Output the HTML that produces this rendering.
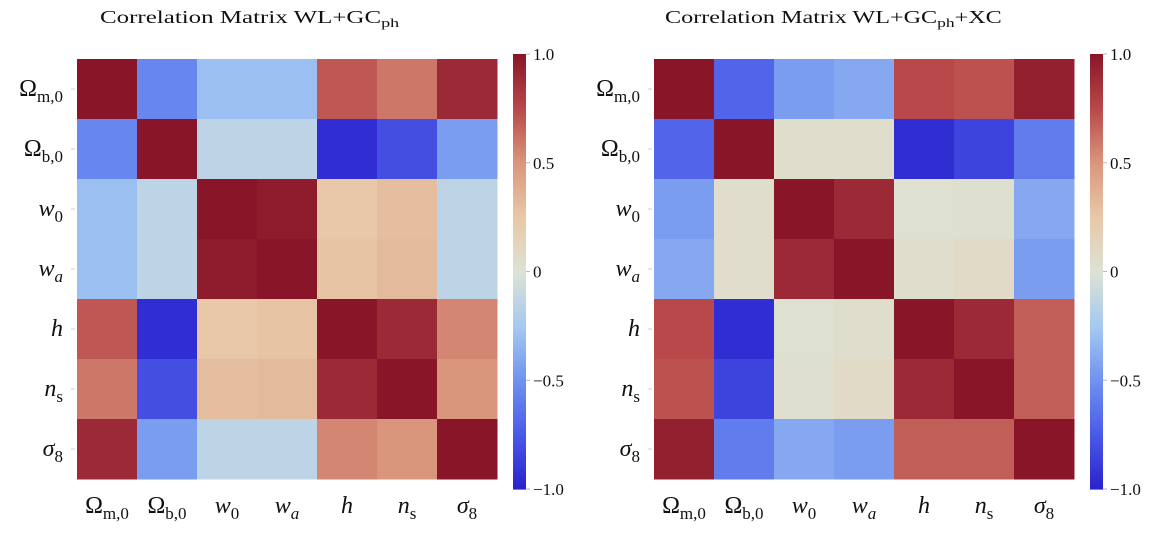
<!DOCTYPE html>
<html><head><meta charset="utf-8"><style>
body{margin:0;background:#fff;width:1153px;height:533px;overflow:hidden}
svg{display:block;font-family:"Liberation Serif",serif}
</style></head><body>
<svg id="c" width="1153" height="533" xmlns="http://www.w3.org/2000/svg"></svg>
<script>
const params = ["Ω|m,0","Ω|b,0","w|0","w|a","h|","n|s","σ|8"];
const matrixA = [
 [1,-0.55,-0.3,-0.3,0.7,0.6,0.9],
 [-0.55,1,-0.15,-0.15,-0.95,-0.8,-0.45],
 [-0.3,-0.15,1,0.97,0.25,0.3,-0.15],
 [-0.3,-0.15,0.97,1,0.27,0.32,-0.15],
 [0.7,-0.95,0.25,0.27,1,0.9,0.55],
 [0.6,-0.8,0.3,0.32,0.9,1,0.5],
 [0.9,-0.45,-0.15,-0.15,0.55,0.5,1]];
const matrixB = [
 [1,-0.7,-0.45,-0.4,0.75,0.72,0.95],
 [-0.7,1,0.05,0.05,-0.95,-0.85,-0.6],
 [-0.45,0.05,1,0.9,0.02,0.03,-0.4],
 [-0.4,0.05,0.9,1,0.04,0.08,-0.45],
 [0.75,-0.95,0.02,0.04,1,0.9,0.68],
 [0.72,-0.85,0.03,0.08,0.9,1,0.68],
 [0.95,-0.6,-0.4,-0.45,0.68,0.68,1]];
const titles = ["Correlation Matrix WL+GC","Correlation Matrix WL+GC"];
const cbTicks = [1.0,0.5,0,-0.5,-1.0];
const cbLabels = ["1.0","0.5","0","\u22120.5","\u22121.0"];

const stops=[[-1,[42,34,204]],[-0.75,[74,90,232]],[-0.5,[112,146,240]],[-0.25,[166,202,240]],[0,[221,226,212]],[0.25,[232,200,168]],[0.5,[218,150,124]],[0.75,[184,72,74]],[1,[137,22,40]]];
function col(v){v=Math.max(-1,Math.min(1,v));for(let i=0;i<stops.length-1;i++){const[a,ca]=stops[i],[b,cb]=stops[i+1];if(v<=b){const t=(v-a)/(b-a);return`rgb(${ca.map((c,k)=>Math.round(c+(cb[k]-c)*t)).join(",")})`;}}return"rgb(137,22,40)";}
const NS="http://www.w3.org/2000/svg",svg=document.getElementById("c");
function el(t,a,p){const e=document.createElementNS(NS,t);for(const k in a)e.setAttribute(k,a[k]);(p||svg).appendChild(e);return e;}
function label(p,x,y,anchor,g){
 const [b,s]=p.split("|");const it=(b==="w"||b==="h"||b==="n"||b==="σ");
 const t=el("text",{x:x,y:y,"text-anchor":anchor,"font-size":24,fill:"#111"},g);
 const m=el("tspan",{"font-style":it?"italic":"normal"},t);m.textContent=b;
 if(s){const u=el("tspan",{dy:6,"font-size":17,"font-style":(s==="a")?"italic":"normal"},t);u.textContent=s;}
 return t;
}
const panels=[{x0:77,data:matrixA,cbx:513,tx:100,tl:300,sub:"ph",extra:""},{x0:654,data:matrixB,cbx:1090,tx:665,tl:337,sub:"ph",extra:"+XC"}];
const y0=59,cs=60,cbTop=54,cbBot=489;
function cy(v){return cbTop+(1-v)/2*(cbBot-cbTop);}
panels.forEach((P,pi)=>{
 const g=el("g",{});
 
 
 const tg=el("g",{},g);
 const tt=el("text",{x:0,y:23,"font-size":18,fill:"#111"},tg);
 
 
 const a=el("tspan",{},tt);a.textContent=titles[pi];
 const s=el("tspan",{dy:4,"font-size":13},tt);s.textContent=P.sub;
 if(P.extra){const e=el("tspan",{dy:-4},tt);e.textContent=P.extra;}
 const w=tt.getBBox().width||P.tl;
 tg.setAttribute("transform",`translate(${P.tx},0) scale(${P.tl/w},1)`);
 P.data.forEach((row,i)=>row.forEach((v,j)=>{
  const r=el("rect",{x:P.x0+j*cs,y:y0+i*cs,width:cs+0.5,height:cs+0.5,fill:col(v)},g);
  
  
 }));
 params.forEach((p,i)=>{
  const yl=label(p,P.x0-14,y0+i*cs+cs/2+7,"end",g);
  
  
  el("line",{x1:P.x0-6,x2:P.x0-2,y1:y0+i*cs+cs/2,y2:y0+i*cs+cs/2,stroke:"#ccc"},g);
  const xl=label(p,P.x0+i*cs+cs/2,513,"middle",g);
  
  
 });
 const cb=el("g",{},g);
 
 
 for(let k=0;k<200;k++){const v=1-2*k/200;el("rect",{x:P.cbx,y:cy(v),width:13,height:(cbBot-cbTop)/200+0.6,fill:col(v-0.005)},cb);}
 cbTicks.forEach((v,k)=>{
  el("line",{x1:P.cbx+13,x2:P.cbx+17,y1:cy(v),y2:cy(v),stroke:"#bbb"},cb);
  const t=el("text",{x:P.cbx+20,y:cy(v)+6,"font-size":17,fill:"#111"},cb);
  
  
  t.textContent=cbLabels[k];
 });
});
</script>
</body></html>
